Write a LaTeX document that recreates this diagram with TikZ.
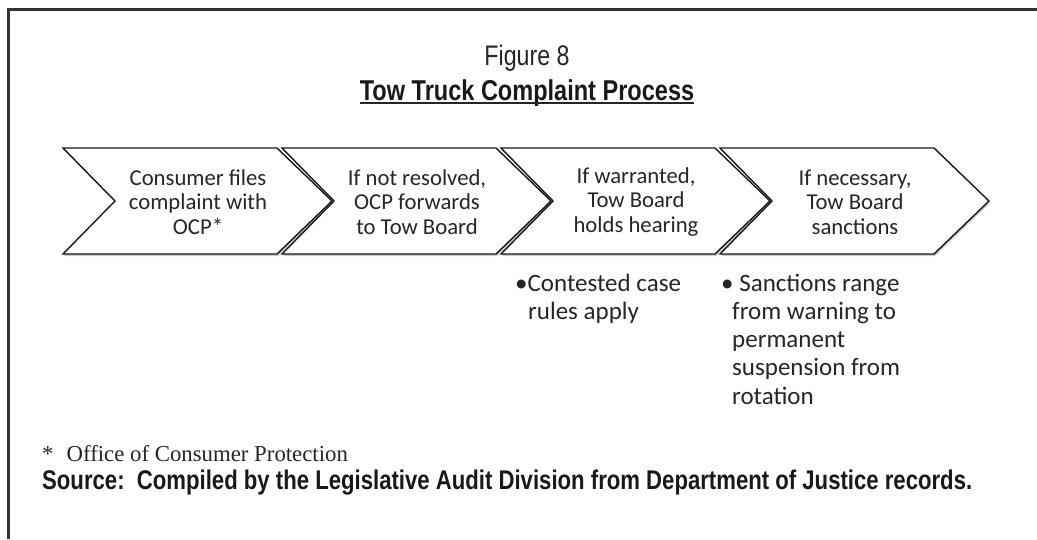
\documentclass[tikz,border=0pt]{standalone}
\usepackage{fontspec}
\usetikzlibrary{shadows}
\setmainfont{Carlito}
\newfontfamily\narrowfont[FakeStretch=0.82]{Liberation Sans}
\newfontfamily\notefont{Liberation Serif}
\begin{document}
\begin{tikzpicture}[x=1pt,y=-1pt,
  chevron/.style={fill=white,draw=black!90,line width=1.4pt,line join=miter,
    drop shadow={shadow xshift=1pt,shadow yshift=-2pt,opacity=0.35,fill=black!60}},
  chevtext/.style={align=center,inner sep=0pt,text=black!85,font=\fontsize{22.7}{24.5}\selectfont},
  bultext/.style={anchor=base west,inner sep=0pt,text=black!85,font=\fontsize{25}{28.3}\selectfont},
  frameline/.style={line width=3pt,draw=black!80}]
\useasboundingbox (0,0) rectangle (1037,539);
\fill[white] (0,0) rectangle (1037,539);
% frame
\draw[frameline] (1037,9) -- (8.5,9) -- (8.5,539);
% titles
\node[anchor=base,inner sep=0pt,text=black!85,font=\narrowfont\fontsize{28.3}{30}\selectfont] (fig) at (527,65) {Figure 8};
\node[anchor=base,inner sep=0pt,text=black!90,font=\narrowfont\bfseries\fontsize{28.7}{30}\selectfont] (title) at (527,100) {Tow Truck Complaint Process};
\draw[line width=1.5pt,black!85] ([yshift=-2.8pt]title.base west) -- ([yshift=-2.8pt]title.base east);
% chevrons
\foreach \L in {63,282,501,720}{
  \path[chevron] (\L,148) -- ++(214,0) -- ++(55,53) -- ++(-55,53) -- ++(-214,0) -- ++(52,-53) -- cycle;
}
\node[chevtext] (c1) at (198,202) {Consumer files\\complaint with\\OCP*};
\node[chevtext] (c2) at (417,202) {If not resolved,\\OCP forwards\\to Tow Board};
\node[chevtext] (c3) at (636,202) {If warranted,\\Tow Board\\holds hearing};
\node[chevtext] (c4) at (855,202) {If necessary,\\Tow Board\\sanctions};
% bullets
\node[bultext] (b3a) at (515,291) {\textbullet Contested case};
\node[bultext] (b3b) at (528,319.3) {rules apply};
\node[bultext] (b4a) at (721,291) {\textbullet{} Sanctions range};
\node[bultext] (b4b) at (732,319.3) {from warning to};
\node[bultext] (b4c) at (732,347.6) {permanent};
\node[bultext] (b4d) at (732,375.9) {suspension from};
\node[bultext] (b4e) at (732,404.2) {rotation};
% notes
\node[anchor=base west,inner sep=0pt,text=black!85,font=\notefont\fontsize{22.8}{24}\selectfont] (note) at (42,461) {*\hspace{13pt}Office of Consumer Protection};
\node[anchor=base west,inner sep=0pt,text=black!90,font=\narrowfont\bfseries\fontsize{27}{28}\selectfont] (src) at (42,489) {Source:\ \ Compiled by the Legislative Audit Division from Department of Justice records.};
\end{tikzpicture}
\end{document}
